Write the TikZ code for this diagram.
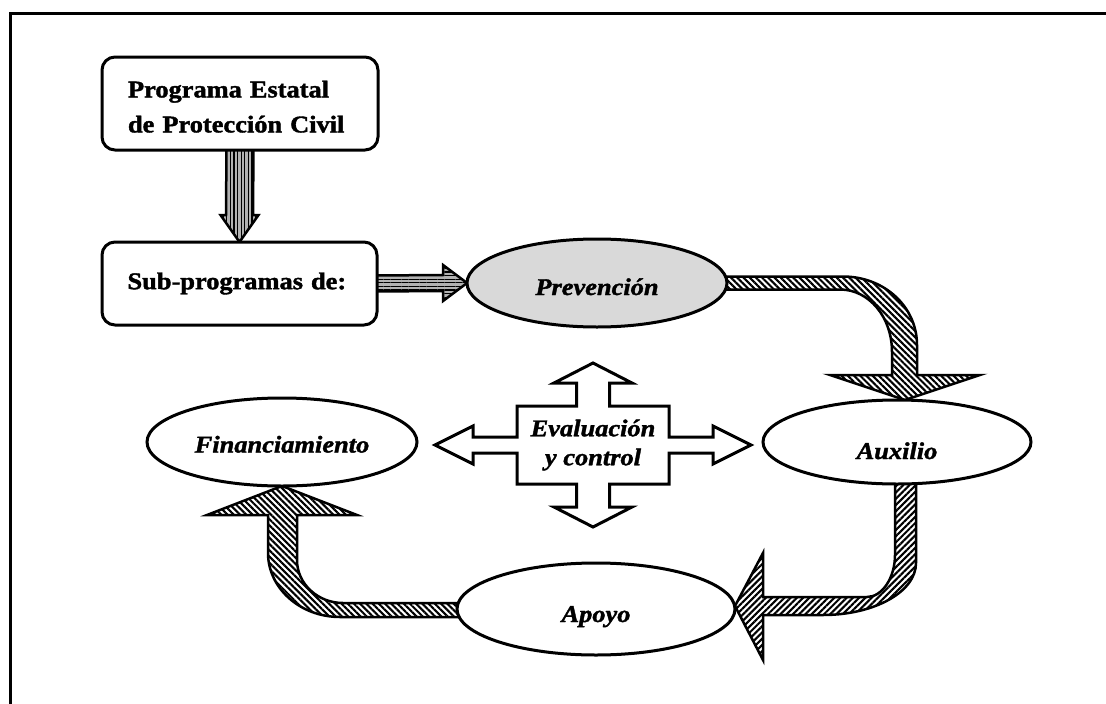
\documentclass[tikz,border=0pt]{standalone}
\usepackage{fontspec}
\setmainfont{Liberation Serif}[FakeStretch=1.1,
  BoldFeatures={FakeBold=1.6},BoldItalicFeatures={FakeBold=1.6}]
\usetikzlibrary{shapes.geometric,patterns.meta,calc}
\pgfdeclarelayer{arrows}
\pgfsetlayers{arrows,main}

\newcommand\diagfont{\fontsize{24}{35}\selectfont}

\begin{document}
\begin{tikzpicture}[x=1pt,y=-1pt,
  framestyle/.style={line width=3pt},
  roundbox/.style={draw,fill=white,line width=3pt,rounded corners=13pt,inner sep=0pt,outer sep=0pt,
    font=\diagfont\bfseries,text width=224pt,align=left},
  oval/.style={draw,ellipse,fill=white,line width=3pt,inner sep=0pt,outer sep=0pt,
    font=\diagfont\bfseries\itshape,text depth=0pt},
  blockarrow/.style={draw,line width=2.5pt,line join=miter,miter limit=20},
  vstripes/.style={blockarrow,preaction={fill=black!30},pattern={Lines[angle=90,distance=3.6pt,line width=1.3pt]}},
  hstripes/.style={blockarrow,preaction={fill=black!30},pattern={Lines[angle=0,distance=3.6pt,line width=1.3pt]}},
  backslashes/.style={blockarrow,preaction={fill=white},pattern={Lines[angle=-45,distance=4.4pt,line width=2.1pt]}},
  slashes/.style={blockarrow,preaction={fill=white},pattern={Lines[angle=45,distance=4.4pt,line width=2.1pt]}},
  crossarrow/.style={draw,line width=3pt,line join=miter}
]
\useasboundingbox (0,0) rectangle (1106,704);

% outer frame
\draw[framestyle] (10,704) -- (10,13) -- (1106,13);

% boxes
\node[roundbox,minimum width=276pt,minimum height=93pt] (prog) at (240,103.5)
  {\rule{0pt}{23pt}Programa Estatal\\de Protección Civil};
\node[roundbox,minimum width=275pt,minimum height=83pt] (sub) at (239.5,283.5)
  {Sub-programas de:};

% ellipses
\node[oval,fill=black!15,minimum width=260pt,minimum height=88pt,text height=24pt] (prev) at (597,283) {Prevención};
\node[oval,minimum width=268pt,minimum height=84pt,text height=34pt] (aux) at (897,442) {Auxilio};
\node[oval,minimum width=278pt,minimum height=92pt,text height=26pt] (apoyo) at (596,609) {Apoyo};
\node[oval,minimum width=270pt,minimum height=88pt,text height=21pt] (fin) at (282,442) {Financiamiento};

% four-way arrow around the central label
\node[font=\fontsize{24}{29}\selectfont\bfseries\itshape,align=center,inner sep=0pt] (eval) at (593,445)
  {Evaluación\\y control};
\begin{scope}[shift={(eval.center)}]
  \draw[crossarrow] (0,-82) -- (39,-62) -- (16.5,-62) -- (16.5,-39) -- (76,-39) -- (76,-8)
    -- (120,-8) -- (120,-19) -- (158,0) -- (120,19) -- (120,8) -- (76,8) -- (76,39)
    -- (16.5,39) -- (16.5,62) -- (39,62) -- (0,82) -- (-39,62) -- (-16.5,62) -- (-16.5,39)
    -- (-76,39) -- (-76,8) -- (-120,8) -- (-120,19) -- (-158,0) -- (-120,-19) -- (-120,-8)
    -- (-76,-8) -- (-76,-39) -- (-16.5,-39) -- (-16.5,-62) -- (-39,-62) -- cycle;
\end{scope}

% connector end points
\coordinate (a1top) at ($(prev.east)+(-4,-6.5)$);
\coordinate (a1bot) at ($(prev.east)+(-4,6.5)$);
\coordinate (a1tip) at ($(aux.north)+(8,0)$);
\coordinate (a2r) at ($(aux.south)+(19,-4)$);
\coordinate (a2l) at ($(aux.south)+(-2,-4)$);
\coordinate (a2tip) at ($(apoyo.east)+(0,-3)$);
\coordinate (a3b) at ($(apoyo.west)+(4,8)$);
\coordinate (a3t) at ($(apoyo.west)+(4,-6)$);
\coordinate (a3tip) at (fin.south);

\begin{pgfonlayer}{arrows}
  % programme -> sub-programmes
  \draw[vstripes] ($(prog.south)+(-13.5,-3)$) -- ($(sub.north)+(-13.5,-27)$) -- ++(-5.5,0)
    -- (sub.north) -- ++(19,-27) -- ++(-5.5,0) -- ($(prog.south)+(13.5,-3)$) -- cycle;
  % sub-programmes -> prevention
  \draw[hstripes] ($(sub.east)+(-3,-8)$) -- ($(prev.west)+(-24,-8)$) -- ++(0,-10)
    -- (prev.west) -- ++(-24,18) -- ++(0,-10) -- ($(sub.east)+(-3,8)$) -- cycle;
  % prevention -> relief
  \draw[backslashes] (a1top) -- ++(120,0)
    .. controls +(41,0) and +(0,-38.5) .. ++(74,68.5)
    -- ++(0,30) -- ++(63,0) -- (a1tip) -- ++(-75,-25) -- ++(62,0) -- ++(0,-23)
    .. controls +(0,-35) and +(29,0) .. ++(-52,-62.5)
    -- (a1bot) -- cycle;
  % relief -> support
  \draw[slashes] (a2r) -- ++(0,83)
    .. controls +(0,29) and +(51,0) .. ++(-93,52)
    -- ++(-60,0) -- ++(0,45) -- (a2tip) -- ++(28,-53) -- ++(0,44) -- ++(104,0)
    .. controls +(15,0) and +(0,23) .. ++(28,-42)
    -- (a2l) -- cycle;
  % support -> financing
  \draw[backslashes] (a3b) -- ++(-121,0)
    .. controls +(-40,0) and +(0,35) .. ++(-72,-64)
    -- ++(0,-38) -- ++(-61,0) -- (a3tip) -- ++(75,29) -- ++(-60,0) -- ++(0,45)
    .. controls +(0,24) and +(-25,0) .. ++(46,43)
    -- (a3t) -- cycle;
\end{pgfonlayer}
\end{tikzpicture}
\end{document}
